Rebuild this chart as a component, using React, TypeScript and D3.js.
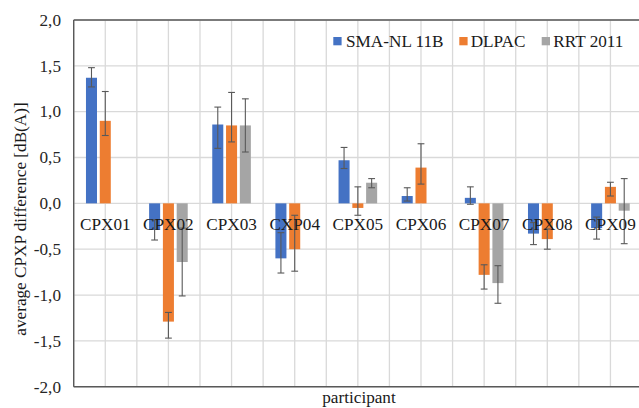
import React from "react";
import * as d3 from "d3";

const categories = ["CPX01", "CPX02", "CPX03", "CXP04", "CPX05", "CPX06", "CPX07", "CPX08", "CPX09"];
const seriesNames = ["SMA-NL 11B", "DLPAC", "RRT 2011"];
const seriesColors = ["#4472C4", "#ED7D31", "#A5A5A5"];

// values per series (null = no bar)
const smaValues = [1.37, -0.29, 0.86, -0.60, 0.47, 0.08, 0.06, -0.33, -0.27];
const smaLow = [1.27, -0.40, 0.60, -0.76, 0.38, 0.025, -0.01, -0.45, -0.39];
const smaHigh = [1.48, -0.18, 1.05, -0.32, 0.61, 0.17, 0.18, -0.21, -0.15];

const dlpacValues = [0.90, -1.29, 0.85, -0.50, -0.05, 0.39, -0.78, -0.39, 0.18];
const dlpacLow = [0.74, -1.47, 0.67, -0.74, -0.13, 0.21, -0.935, -0.50, 0.08];
const dlpacHigh = [1.22, -1.19, 1.21, -0.13, 0.18, 0.65, -0.67, -0.28, 0.23];

const rrtValues = [null, -0.64, 0.85, null, 0.225, null, -0.87, null, -0.08];
const rrtLow = [null, -1.01, 0.56, null, 0.17, null, -1.09, null, -0.44];
const rrtHigh = [null, -0.27, 1.14, null, 0.27, null, -0.68, null, 0.27];

const yTicks = [2.0, 1.5, 1.0, 0.5, 0.0, -0.5, -1.0, -1.5, -2.0];

const W = 639;
const H = 408;
const FONT = '"Liberation Serif", "DejaVu Serif", serif';
const FS = 17.2;

const txtStyle: React.CSSProperties = { fontFamily: FONT, fontSize: FS };

export default function App() {
  const left = 73.7;
  const right = 642.0;
  const top = 20;
  const bottom = 386.7;

  const x0 = d3.scaleBand<string>().domain(categories).range([left, right]).padding(0);
  const x1 = d3
    .scaleBand<string>()
    .domain(seriesNames)
    .range([0, x0.bandwidth()])
    .paddingInner(0.2)
    .paddingOuter(0.89);
  const y = d3.scaleLinear().domain([-2, 2]).range([bottom, top]);

  const series = [
    { name: seriesNames[0], color: seriesColors[0], v: smaValues, lo: smaLow, hi: smaHigh },
    { name: seriesNames[1], color: seriesColors[1], v: dlpacValues, lo: dlpacLow, hi: dlpacHigh },
    { name: seriesNames[2], color: seriesColors[2], v: rrtValues, lo: rrtLow, hi: rrtHigh },
  ];

  const grid = "#d9d9d9";
  const axisCol = "#595959";
  const errCol = "#595959";
  const capHalf = 3.4;

  const legendItems = [
    { sq: 333.3, tx: 346 },
    { sq: 459.3, tx: 470.7 },
    { sq: 541.7, tx: 553.3 },
  ];

  return (
    <svg
      width={W}
      height={H}
      style={{ position: "absolute", left: 0, top: 0, background: "#fff", overflow: "hidden" }}
    >
      <rect x={0} y={0} width={W} height={H} fill="#fff" />
      {yTicks.map((t) => (
        <line key={"h" + t} x1={left} x2={right} y1={y(t)} y2={y(t)} stroke={grid} strokeWidth={1.3} />
      ))}
      {categories.map((c) => (
        <g key={"v" + c}>
          <line x1={x0(c)!} x2={x0(c)!} y1={top} y2={bottom} stroke={grid} strokeWidth={1.3} />
          <line
            x1={x0(c)! + x0.bandwidth() / 2}
            x2={x0(c)! + x0.bandwidth() / 2}
            y1={top}
            y2={bottom}
            stroke={grid}
            strokeWidth={1.3}
          />
        </g>
      ))}
      {series.map((s) =>
        categories.map((c, i) => {
          const v = s.v[i];
          if (v === null) return null;
          const bx = x0(c)! + x1(s.name)!;
          const y0 = y(0);
          const yv = y(v);
          return (
            <rect
              key={s.name + c}
              x={bx}
              y={Math.min(y0, yv)}
              width={x1.bandwidth()}
              height={Math.abs(yv - y0)}
              fill={s.color}
            />
          );
        })
      )}
      {series.map((s) =>
        categories.map((c, i) => {
          const lo = s.lo[i];
          const hi = s.hi[i];
          if (lo === null || hi === null) return null;
          const cx = x0(c)! + x1(s.name)! + x1.bandwidth() / 2;
          return (
            <g key={"e" + s.name + c} stroke={errCol} strokeWidth={1.1}>
              <line x1={cx} x2={cx} y1={y(hi)} y2={y(lo)} />
              <line x1={cx - capHalf} x2={cx + capHalf} y1={y(hi)} y2={y(hi)} />
              <line x1={cx - capHalf} x2={cx + capHalf} y1={y(lo)} y2={y(lo)} />
            </g>
          );
        })
      )}
      <line x1={left} x2={right} y1={top} y2={top} stroke={axisCol} strokeWidth={1.4} />
      <line x1={left} x2={right} y1={bottom} y2={bottom} stroke={axisCol} strokeWidth={1.4} />
      <line x1={left} x2={left} y1={top} y2={bottom} stroke={axisCol} strokeWidth={1.4} />
      {yTicks.map((t) => (
        <text key={"yl" + t} x={61} y={y(t) + 5.8} textAnchor="end" style={txtStyle} fill="#262626">
          {d3.format(".1f")(t).replace("−", "-").replace(".", ",")}
        </text>
      ))}
      {categories.map((c) => (
        <text
          key={"cl" + c}
          x={x0(c)! + x0.bandwidth() / 2}
          y={230}
          textAnchor="middle"
          style={txtStyle}
          fill="#1a1a1a"
        >
          {c}
        </text>
      ))}
      <text transform="translate(26,219) rotate(-90)" textAnchor="middle" style={txtStyle} fill="#1a1a1a">
        average CPXP difference [dB(A)]
      </text>
      <text x={359} y={402.5} textAnchor="middle" style={txtStyle} fill="#1a1a1a">
        participant
      </text>
      {series.map((s, i) => (
        <g key={"lg" + s.name}>
          <rect x={legendItems[i].sq} y={37} width={8.3} height={8.3} fill={s.color} />
          <text x={legendItems[i].tx} y={47} style={txtStyle} fill="#1a1a1a">
            {s.name}
          </text>
        </g>
      ))}
    </svg>
  );
}
